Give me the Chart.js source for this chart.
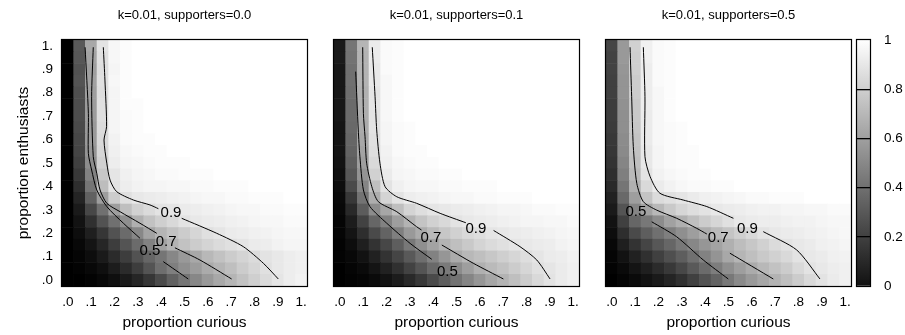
<!DOCTYPE html>
<html>
<head>
<meta charset="utf-8">
<script src="https://cdn.jsdelivr.net/npm/chart.js@4.4.0/dist/chart.umd.min.js"></script>
<style>
  body { margin: 0; background: #fff; width: 905px; height: 335px; position: relative; overflow: hidden; }
  canvas { position: absolute; left: 0; top: 0; }
</style>
</head>
<body>
<canvas id="panel0" width="905" height="335"></canvas>
<canvas id="panel1" width="905" height="335"></canvas>
<canvas id="panel2" width="905" height="335"></canvas>
<canvas id="scale" width="905" height="335"></canvas>
<script>
"use strict";
// grid of the runs
const curious = [0, 0.05, 0.1, 0.15, 0.2, 0.25, 0.3, 0.35, 0.4, 0.45, 0.5, 0.55, 0.6, 0.65, 0.7, 0.75, 0.8, 0.85, 0.9, 0.95, 1];
const enthusiasts = [1, 0.95, 0.9, 0.85, 0.8, 0.75, 0.7, 0.65, 0.6, 0.55, 0.5, 0.45, 0.4, 0.35, 0.3, 0.25, 0.2, 0.15, 0.1, 0.05, 0];
const axisTicks = [0, 0.1, 0.2, 0.3, 0.4, 0.5, 0.6, 0.7, 0.8, 0.9, 1];
const axisTickText = [".0", ".1", ".2", ".3", ".4", ".5", ".6", ".7", ".8", ".9", "1."];
const barTicks = [0, 0.2, 0.4, 0.6, 0.8, 1];
const barTickText = ["0", "0.2", "0.4", "0.6", "0.8", "1"];
const titles = ["k=0.01, supporters=0.0", "k=0.01, supporters=0.1", "k=0.01, supporters=0.5"];

// value in % (0 black .. 100 white), rows from enthusiasts 1. down to .0
const grid0 = [
  [0,35,66,89,97,99,100,100,100,100,100,100,100,100,100,100,100,100,100,100,100],
  [0,34,64,88,97,99,100,100,100,100,100,100,100,100,100,100,100,100,100,100,100],
  [0,32,62,87,96,99,100,100,100,100,100,100,100,100,100,100,100,100,100,100,100],
  [0,33,63,88,97,99,100,100,100,100,100,100,100,100,100,100,100,100,100,100,100],
  [0,31,62,87,96,99,100,100,100,100,100,100,100,100,100,100,100,100,100,100,100],
  [0,30,61,88,96,99,99,100,100,100,100,100,100,100,100,100,100,100,100,100,100],
  [0,30,61,87,96,98,99,100,100,100,100,100,100,100,100,100,100,100,100,100,100],
  [0,29,60,86,96,98,99,100,100,100,100,100,100,100,100,100,100,100,100,100,100],
  [0,28,60,85,95,98,99,99,100,100,100,100,100,100,100,100,100,100,100,100,100],
  [0,27,58,84,94,97,98,99,99,100,100,100,100,100,100,100,100,100,100,100,100],
  [0,25,55,82,93,96,97,98,99,99,99,100,100,100,100,100,100,100,100,100,100],
  [0,22,51,78,90,94,96,97,98,98,99,99,99,100,100,100,100,100,100,100,100],
  [0,18,46,74,89,93,95,96,96,97,97,98,98,99,99,99,100,100,100,100,100],
  [0,14,38,62,80,88,91,92,93,94,95,96,97,97,98,98,99,99,99,100,100],
  [0,10,28,44,62,75,82,86,89,90,92,93,94,95,96,97,97,98,98,99,99],
  [0,7,19,32,44,56,69,76,81,85,89,91,92,93,94,95,96,97,97,98,98],
  [0,5,12,21,32,42,53,64,71,76,80,84,88,90,92,93,94,95,96,97,97],
  [0,3,8,15,24,33,42,51,63,70,76,80,83,86,88,90,92,93,95,96,96],
  [0,2,5,10,17,24,32,40,46,53,60,66,72,76,80,83,86,89,91,93,94],
  [0,1,3,6,11,17,24,33,43,50,56,61,67,71,75,80,84,88,91,93,94],
  [0,0,1,3,6,10,15,21,29,38,46,53,60,66,71,76,81,86,90,93,95]
];
const grid1 = [
  [10,46,71,92,98,99,100,100,100,100,100,100,100,100,100,100,100,100,100,100,100],
  [10,45,70,92,98,99,100,100,100,100,100,100,100,100,100,100,100,100,100,100,100],
  [9,44,70,91,98,99,100,100,100,100,100,100,100,100,100,100,100,100,100,100,100],
  [9,44,70,91,97,99,100,100,100,100,100,100,100,100,100,100,100,100,100,100,100],
  [9,43,69,90,97,99,100,100,100,100,100,100,100,100,100,100,100,100,100,100,100],
  [9,42,69,90,97,99,100,100,100,100,100,100,100,100,100,100,100,100,100,100,100],
  [9,42,68,89,97,99,100,100,100,100,100,100,100,100,100,100,100,100,100,100,100],
  [8,41,67,89,96,98,99,100,100,100,100,100,100,100,100,100,100,100,100,100,100],
  [8,40,66,88,96,98,99,100,100,100,100,100,100,100,100,100,100,100,100,100,100],
  [8,39,64,87,95,98,99,99,100,100,100,100,100,100,100,100,100,100,100,100,100],
  [7,37,62,85,94,97,98,99,99,100,100,100,100,100,100,100,100,100,100,100,100],
  [6,34,58,82,92,96,97,98,98,99,99,100,100,100,100,100,100,100,100,100,100],
  [5,29,52,75,89,94,96,97,97,98,98,99,99,99,100,100,100,100,100,100,100],
  [4,22,45,68,83,89,93,94,95,96,97,97,98,98,99,99,99,100,100,100,100],
  [3,16,36,55,65,75,83,87,90,91,92,93,94,95,96,96,97,98,98,99,99],
  [2,11,26,40,51,62,70,77,82,85,89,91,92,93,94,95,96,96,97,97,98],
  [2,8,18,29,39,50,60,67,73,78,82,85,87,90,91,92,93,94,95,96,97],
  [1,5,12,20,28,37,47,56,64,70,75,79,83,86,88,90,91,92,93,95,96],
  [1,3,7,13,20,27,35,43,51,59,67,72,75,78,81,84,87,90,92,93,95],
  [0,2,4,8,13,19,26,33,41,48,55,62,69,73,76,80,84,88,90,92,94],
  [0,1,2,4,7,11,16,22,29,37,45,52,59,65,70,75,80,85,89,92,94]
];
const grid2 = [
  [27,60,82,94,98,99,100,100,100,100,100,100,100,100,100,100,100,100,100,100,100],
  [26,60,81,94,98,99,100,100,100,100,100,100,100,100,100,100,100,100,100,100,100],
  [26,59,81,93,98,99,100,100,100,100,100,100,100,100,100,100,100,100,100,100,100],
  [25,58,80,93,98,99,100,100,100,100,100,100,100,100,100,100,100,100,100,100,100],
  [25,58,80,93,97,99,100,100,100,100,100,100,100,100,100,100,100,100,100,100,100],
  [24,57,79,93,97,99,100,100,100,100,100,100,100,100,100,100,100,100,100,100,100],
  [24,56,79,92,97,99,100,100,100,100,100,100,100,100,100,100,100,100,100,100,100],
  [23,56,78,92,97,98,99,100,100,100,100,100,100,100,100,100,100,100,100,100,100],
  [22,55,77,92,97,98,99,100,100,100,100,100,100,100,100,100,100,100,100,100,100],
  [21,54,76,91,96,98,99,99,100,100,100,100,100,100,100,100,100,100,100,100,100],
  [20,52,75,91,96,98,99,99,100,100,100,100,100,100,100,100,100,100,100,100,100],
  [18,50,73,89,95,97,98,99,99,100,100,100,100,100,100,100,100,100,100,100,100],
  [16,46,69,85,92,95,97,98,98,99,99,100,100,100,100,100,100,100,100,100,100],
  [13,41,62,77,86,88,90,92,94,95,96,97,98,98,99,99,99,100,100,100,100],
  [10,33,52,64,72,79,84,87,89,91,92,93,94,95,95,96,96,97,97,98,98],
  [7,25,40,47,55,63,69,75,80,84,88,91,92,93,93,94,95,95,96,97,97],
  [5,18,29,37,44,50,56,62,68,73,77,81,85,89,91,92,93,94,95,96,97],
  [3,12,20,27,34,40,47,53,59,64,69,74,78,82,86,89,91,92,94,95,96],
  [2,7,13,19,25,31,37,44,51,58,66,71,75,79,82,85,89,91,92,94,95],
  [1,4,8,12,17,22,28,35,42,49,56,62,67,72,76,80,85,89,91,93,94],
  [0,2,4,7,10,14,19,25,32,39,47,54,60,65,70,75,80,85,89,92,94]
];

// contour lines as [curious, enthusiasts]; null leaves the gap for the label
const c0_05 = [[0.074,0.994],[0.088,0.712],[0.088,0.541],[0.102,0.470],[0.124,0.385],[0.167,0.314],[0.238,0.243],[0.309,0.179],null,[0.409,0.079],[0.516,0.005]];
const c0_07 = [[0.109,0.994],[0.102,0.783],[0.109,0.527],[0.124,0.456],[0.138,0.385],[0.167,0.328],[0.224,0.292],[0.309,0.243],[0.381,0.200],null,[0.459,0.138],[0.566,0.086],[0.702,0.005]];
const c0_09 = [[0.152,0.994],[0.159,0.854],[0.166,0.655],[0.155,0.598],[0.167,0.499],[0.181,0.427],[0.209,0.378],[0.281,0.342],[0.352,0.321],[0.388,0.305],null,[0.488,0.264],[0.638,0.200],[0.752,0.143],[0.838,0.072],[0.902,0.005]];
const c1_05 = [[0.068,0.890],[0.079,0.641],[0.086,0.527],[0.101,0.385],[0.129,0.314],[0.201,0.243],[0.301,0.157],[0.394,0.089]];
const c1_07 = [[0.098,0.994],[0.101,0.712],[0.108,0.612],[0.115,0.499],[0.137,0.399],[0.165,0.335],[0.244,0.292],[0.329,0.228],[0.350,0.214],null,[0.437,0.150],[0.572,0.072],[0.701,0.005]];
const c1_09 = [[0.139,0.994],[0.151,0.783],[0.158,0.641],[0.172,0.499],[0.194,0.399],[0.244,0.356],[0.329,0.328],[0.430,0.285],[0.540,0.245],null,[0.659,0.212],[0.772,0.143],[0.844,0.086],[0.901,0.005]];
const c2_05 = [[0.171,0.249],[0.278,0.185],[0.392,0.086],[0.499,0.005]];
const c2_07 = [[0.078,0.994],[0.085,0.783],[0.092,0.570],[0.107,0.413],[0.135,0.335],[0.192,0.299],[0.278,0.264],[0.364,0.221],[0.407,0.197],null,[0.506,0.115],[0.692,0.005]];
const c2_09 = [[0.135,0.994],[0.142,0.783],[0.142,0.527],[0.164,0.442],[0.206,0.371],[0.306,0.342],[0.407,0.314],[0.521,0.264],null,[0.649,0.207],[0.792,0.129],[0.892,0.005]];
const labels0 = [[0.442,0.287,"0.9"],[0.421,0.163,"0.7"],[0.352,0.124,"0.5"]];
const labels1 = [[0.583,0.221,"0.9"],[0.390,0.179,"0.7"],[0.461,0.036,"0.5"]];
const labels2 = [[0.581,0.221,"0.9"],[0.456,0.179,"0.7"],[0.103,0.292,"0.5"]];

const FONT = "'Liberation Sans', Arial, sans-serif";

function gray(v) {
  const g = Math.round(v * 2.55);
  return "rgb(" + g + "," + g + "," + g + ")";
}

function heatPoints(grid) {
  const pts = [];
  grid.forEach((row, i) => row.forEach((v, j) => pts.push({ x: curious[j], y: enthusiasts[i], v: v })));
  return pts;
}

function linePoints(arr) {
  return arr.map(p => (p ? { x: p[0], y: p[1] } : { x: null, y: null }));
}

// cell size follows the plot width
function cellRadius(ctx) {
  const a = ctx.chart.chartArea;
  if (!a) return 5;
  return (a.width / curious.length + 0.6) / Math.SQRT2;
}

// black box round the plot area
const frame = {
  id: "frame",
  afterDraw(chart) {
    const a = chart.chartArea;
    const c = chart.ctx;
    c.save();
    c.strokeStyle = "#000";
    c.lineWidth = 1.2;
    c.strokeRect(a.left - 0.5, a.top - 0.5, a.width + 1, a.height + 1);
    c.restore();
  },
};

// panel title above the plot area, and contour labels in data units
const texts = {
  id: "texts",
  afterDatasetsDraw(chart, args, opts) {
    const c = chart.ctx;
    const a = chart.chartArea;
    c.save();
    c.fillStyle = "#000";
    c.textAlign = "center";
    c.textBaseline = "middle";
    c.font = "13px " + FONT;
    c.fillText(opts.title, (a.left + a.right) / 2, 15);
    c.font = "15px " + FONT;
    opts.labels.forEach(l => {
      c.fillText(l[2], chart.scales.x.getPixelForValue(l[0]), chart.scales.y.getPixelForValue(l[1]));
    });
    c.restore();
  },
};

function makePanel(id, grid, lines, labels, title, left, showY) {
  const datasets = lines.map(l => ({
    type: "scatter",
    data: linePoints(l),
    showLine: true,
    spanGaps: false,
    tension: 0.25,
    borderColor: "#000",
    borderWidth: 1,
    pointRadius: 0,
    order: 1,
  }));
  datasets.push({
    type: "scatter",
    data: heatPoints(grid),
    pointStyle: "rect",
    pointRadius: cellRadius,
    pointHoverRadius: cellRadius,
    pointBorderWidth: 0,
    pointBackgroundColor: ctx => (ctx.raw ? gray(ctx.raw.v) : "#000"),
    order: 2,
  });
  return new Chart(document.getElementById(id), {
    type: "scatter",
    data: { datasets: datasets },
    options: {
      responsive: false,
      animation: false,
      events: [],
      layout: { padding: { left: showY ? 0 : left, right: 905 - left - 245, top: 40, bottom: 0 } },
      plugins: {
        legend: { display: false },
        tooltip: { enabled: false },
        texts: { title: title, labels: labels },
      },
      scales: {
        x: {
          type: "linear",
          min: -0.025,
          max: 1.025,
          grid: { display: false, drawTicks: false },
          border: { display: false },
          afterBuildTicks: s => { s.ticks = axisTicks.map(v => ({ value: v })); },
          afterFit: s => { s.height = 49; },
          ticks: { callback: (v, i) => axisTickText[i], padding: 8, color: "#000", font: { family: FONT, size: 13.5 }, maxRotation: 0, autoSkip: false },
          title: { display: true, text: "proportion curious", color: "#000", font: { family: FONT, size: 15.5 }, padding: { top: 0, bottom: 3 } },
        },
        y: {
          type: "linear",
          display: showY,
          min: -0.025,
          max: 1.025,
          grid: { display: false, drawTicks: false },
          border: { display: false },
          afterBuildTicks: s => { s.ticks = axisTicks.map(v => ({ value: v })); },
          afterFit: s => { s.width = showY ? left : 0; },
          ticks: { callback: (v, i) => axisTickText[i], padding: 9, color: "#000", font: { family: FONT, size: 13.5 }, autoSkip: false },
          title: { display: true, text: "proportion enthusiasts", color: "#000", font: { family: FONT, size: 15.5 }, padding: { top: 14, bottom: 0 } },
        },
      },
    },
    plugins: [texts, frame],
  });
}

makePanel("panel0", grid0, [c0_05, c0_07, c0_09], labels0, titles[0], 62, true);
makePanel("panel1", grid1, [c1_05, c1_07, c1_09], labels1, titles[1], 334, false);
makePanel("panel2", grid2, [c2_05, c2_07, c2_09], labels2, titles[2], 606, false);

// colour key
new Chart(document.getElementById("scale"), {
  type: "bar",
  data: {
    labels: [""],
    datasets: [{
      data: [1],
      barPercentage: 1,
      categoryPercentage: 1,
      borderWidth: 0,
      backgroundColor: ctx => {
        const a = ctx.chart.chartArea;
        if (!a) return "#888";
        const g = ctx.chart.ctx.createLinearGradient(0, a.bottom, 0, a.top);
        g.addColorStop(0, "#111");
        g.addColorStop(1, "#fff");
        return g;
      },
    }],
  },
  options: {
    responsive: false,
    animation: false,
    events: [],
    layout: { padding: { left: 857, right: 0, top: 40, bottom: 49 } },
    plugins: { legend: { display: false }, tooltip: { enabled: false } },
    scales: {
      x: { display: false },
      y: {
        position: "right",
        min: 0,
        max: 1,
        afterBuildTicks: s => { s.ticks = barTicks.map(v => ({ value: v })); },
        afterFit: s => { s.width = 35; },
        ticks: { callback: (v, i) => barTickText[i], padding: 14, color: "#000", font: { family: FONT, size: 13.5 } },
        grid: { z: 1, drawTicks: false, lineWidth: 1.3, color: ctx => (ctx.tick && ctx.tick.value > 0 && ctx.tick.value < 1 ? "#000" : "rgba(0,0,0,0)") },
        border: { display: false },
      },
    },
  },
  plugins: [frame],
});
</script>
</body>
</html>
